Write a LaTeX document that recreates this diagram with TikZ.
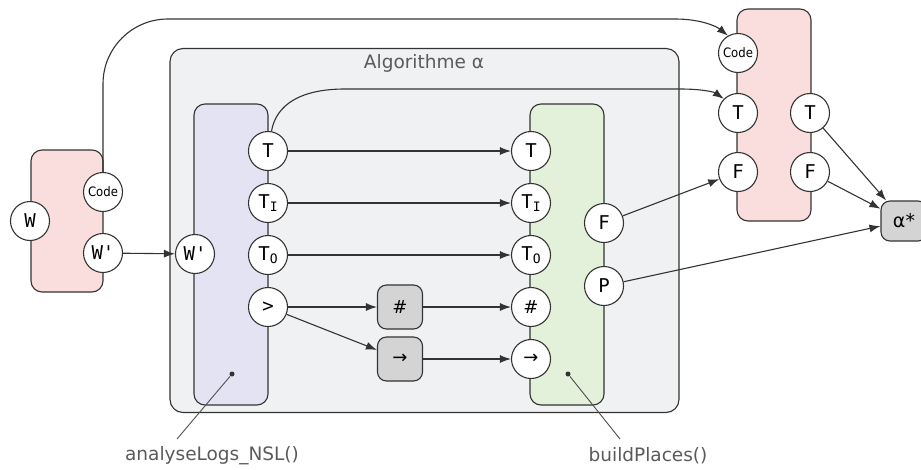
\documentclass[tikz,border=0pt]{standalone}
\usepackage{fontspec}
\setmainfont{DejaVu Sans}
\newfontfamily\portfont{DejaVu Sans Mono}
\newfontfamily\condfont{DejaVu Sans Condensed}
\usetikzlibrary{arrows.meta}
\definecolor{ln}{HTML}{333333}
\definecolor{txtgray}{HTML}{5A5A5A}
\definecolor{pinkf}{HTML}{FADDDD}
\definecolor{purpf}{HTML}{E4E3F3}
\definecolor{greenf}{HTML}{E3F0DA}
\definecolor{algf}{HTML}{F0F1F2}
\definecolor{grayf}{HTML}{D4D4D4}
\begin{document}
\begin{tikzpicture}[x=1pt,y=-1pt,
  line width=1.1pt, color=ln,
  arr/.style={-{Latex[length=11pt,width=8pt]}},
  port/.style={circle, draw=ln, fill=white, line width=1.1pt, minimum size=39pt, inner sep=0pt, text=black, font=\portfont\fontsize{19}{19}\selectfont},
  codeport/.style={port, font=\condfont\fontsize{13}{13}\selectfont},
  block/.style={rectangle, rounded corners=11pt, draw=ln, line width=1.1pt, inner sep=0pt},
  opbox/.style={rectangle, rounded corners=9pt, draw=ln, fill=grayf, line width=1.1pt, minimum width=45pt, minimum height=44pt, inner sep=0pt, text=black},
  lbl/.style={text=txtgray, font=\fontsize{18.5}{18.5}\selectfont, inner sep=0pt},
  dot/.style={circle, fill=ln, draw=none, minimum size=5pt, inner sep=0pt}
]
\useasboundingbox (0,0) rectangle (921,469);
% boxes
\node[block, fill=algf, rounded corners=13pt, minimum width=509pt, minimum height=364pt] (alg) at (424.5,230.5) {};
\node[lbl, anchor=center] (algt) at (424,63) {Algorithme α};
\node[block, fill=pinkf, minimum width=72pt, minimum height=142pt] (lbox) at (67,221) {};
\node[block, fill=purpf, minimum width=74pt, minimum height=301pt] (pbox) at (231,254.5) {};
\node[block, fill=greenf, minimum width=74pt, minimum height=301pt] (gbox) at (567,254.5) {};
\node[block, fill=pinkf, minimum width=74pt, minimum height=212pt] (rbox) at (774,115) {};
% left ports
\node[port] (lW) at (30,221) {W};
\node[codeport] (lcode) at (103,192) {Code};
\node[port] (lWp) at (103,253) {W'};
% purple ports
\node[port] (pWp) at (195,254) {W'};
\node[port] (pT) at (268,151) {T};
\node[port] (pTI) at (268,203) {T\raisebox{-0.3ex}{\fontsize{13}{13}\selectfont I}};
\node[port] (pTO) at (268,255) {T\raisebox{-0.3ex}{\fontsize{13}{13}\selectfont O}};
\node[port] (pgt) at (268,307) {>};
% ops
\node[opbox, font=\fontsize{18}{18}\selectfont] (hash) at (400,307) {\#};
\node[opbox, font=\fontsize{18}{18}\selectfont] (arrow) at (400,359) {→};
% green ports
\node[port] (gT) at (531,151) {T};
\node[port] (gTI) at (531,203) {T\raisebox{-0.3ex}{\fontsize{13}{13}\selectfont I}};
\node[port] (gTO) at (531,255) {T\raisebox{-0.3ex}{\fontsize{13}{13}\selectfont O}};
\node[port, font=\fontsize{18}{18}\selectfont] (ghash) at (531,307) {\#};
\node[port, font=\fontsize{18}{18}\selectfont] (garrow) at (531,359) {→};
\node[port] (gF) at (604,223) {F};
\node[port] (gP) at (604,286) {P};
% right ports
\node[codeport] (rcode) at (738,53) {Code};
\node[port] (rTl) at (738,113) {T};
\node[port] (rFl) at (738,172) {F};
\node[port] (rTr) at (810,113) {T};
\node[port] (rFr) at (810,172) {F};
% alpha*
\node[opbox, minimum width=46pt, minimum height=40pt, font=\fontsize{19}{19}\selectfont] (astar) at (904,221) {α*};
% connectors
\draw[arr] (lcode.north) -- (103,84) .. controls (103,48) and (132,19) .. (168,19) -- (675,19) .. controls (700,19) and (716,26) .. (rcode.120);
\draw[arr] (pT.80) .. controls (276,105) and (300,89) .. (345,89) -- (680,89) .. controls (702,89) and (714,92) .. (rTl.north west);
\draw[arr] (lWp) -- (pWp);
\draw[arr] (pT) -- (gT);
\draw[arr] (pTI) -- (gTI);
\draw[arr] (pTO) -- (gTO);
\draw[arr] (pgt) -- (hash);
\draw[arr] (pgt) -- (arrow);
\draw[arr] (hash) -- (ghash);
\draw[arr] (arrow) -- (garrow);
\draw[arr] (gF) -- (rFl);
\draw[arr] (gP) -- (astar);
\draw[arr] (rTr) -- (astar);
\draw[arr] (rFr) -- (astar);
% annotations
\node[dot] (pdot) at (232,374) {};
\node[dot] (gdot) at (568,374) {};
\coordinate (pend) at (177,439);
\coordinate (gend) at (620,439);
\draw[line width=0.9pt, draw=ln!85] (pdot) -- (pend);
\draw[line width=0.9pt, draw=ln!85] (gdot) -- (gend);
\node[lbl] (plbl) at (212,456) {analyseLogs\_NSL()};
\node[lbl] (glbl) at (648,456) {buildPlaces()};
\end{tikzpicture}
\end{document}
